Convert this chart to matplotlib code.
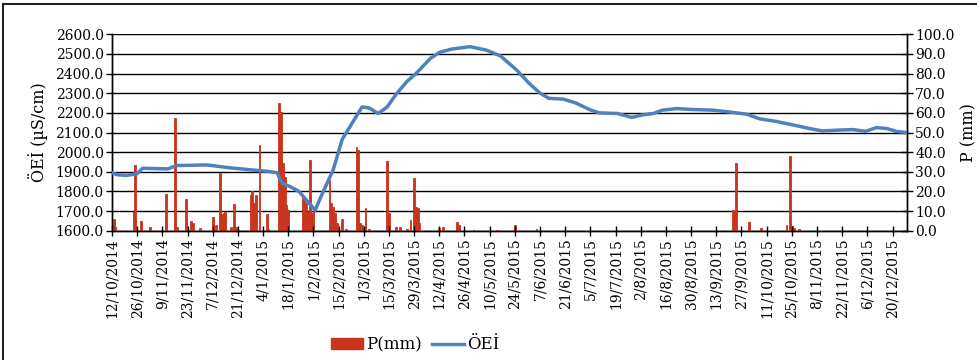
import matplotlib
matplotlib.use("Agg")
import matplotlib.pyplot as plt
from matplotlib.lines import Line2D
from matplotlib.patches import Patch
import datetime as dt

# ---- data ----
start = dt.date(2014, 10, 12)

ec_days = [0, 3, 8, 14, 17, 31, 36, 53, 64, 75, 86, 92, 93, 95, 99, 104, 108, 113, 117,
           123, 128, 132, 139, 143, 148, 153, 158, 164, 169, 177, 182, 189, 199, 208, 216,
           225, 232, 238, 243, 251, 258, 266, 271, 281, 289, 295, 301, 306, 314, 323, 334,
           343, 353, 360, 369, 378, 388, 395, 403, 412, 419, 425, 431, 436, 442]
ec_values = [1895, 1885, 1882, 1890, 1918, 1915, 1932, 1935, 1922, 1912, 1903, 1895, 1870,
             1840, 1825, 1800, 1757, 1705, 1790, 1910, 2065, 2125, 2230, 2225, 2197, 2230,
             2295, 2360, 2400, 2477, 2508, 2525, 2537, 2520, 2490, 2418, 2350, 2300, 2274,
             2270, 2250, 2215, 2200, 2197, 2177, 2190, 2197, 2214, 2222, 2217, 2214, 2205,
             2193, 2170, 2157, 2140, 2120, 2108, 2112, 2115, 2106, 2125, 2120, 2106, 2100]

p_days = [1, 2, 12, 13, 16, 21, 30, 35, 36, 41, 44, 45, 49, 56, 58, 60, 61, 62, 63, 66, 68, 69,
          77, 78, 79, 80, 82, 86, 87, 93, 94, 95, 96, 97, 98, 106, 107, 108, 109, 110, 111, 112,
          121, 122, 123, 124, 125, 128, 130, 136, 137, 138, 139, 141, 143, 153, 154, 158, 160,
          164, 166, 168, 169, 170, 171, 182, 184, 192, 193, 201, 214, 224, 236,
          345, 346, 347, 354, 361, 375, 377, 378, 379, 382]
p_values = [5.8, 2.0, 9.7, 33.4, 5.0, 2.0, 18.7, 57.2, 2.0, 16.0, 5.0, 3.7, 1.5, 7.0, 3.0, 29.5,
            8.5, 9.2, 9.7, 2.0, 13.6, 2.0, 18.0, 20.0, 14.0, 18.0, 43.6, 8.5, 1.0, 65.0, 60.6,
            34.3, 27.5, 13.0, 10.5, 17.0, 17.3, 14.0, 9.7, 36.0, 8.8, 10.5, 26.0, 14.0, 12.0,
            8.8, 3.7, 5.8, 1.0, 42.8, 41.0, 3.7, 2.9, 11.4, 1.0, 35.7, 8.8, 2.0, 2.0, 1.0, 5.4,
            26.7, 12.2, 11.4, 3.7, 1.2, 1.7, 4.6, 2.9, 0.3, 0.3, 2.9, 0.8,
            10.5, 10.5, 34.6, 4.6, 1.5, 2.9, 38.2, 2.4, 1.2, 0.8]

left_ticks = [1600, 1700, 1800, 1900, 2000, 2100, 2200, 2300, 2400, 2500, 2600]
right_ticks = [0, 10, 20, 30, 40, 50, 60, 70, 80, 90, 100]

ec_dates = [start + dt.timedelta(days=d) for d in ec_days]
p_dates = [start + dt.timedelta(days=d) for d in p_days]
tick_dates = [start + dt.timedelta(days=14 * i) for i in range(32)]

# ---- figure ----
plt.rcParams['font.family'] = "DejaVu Serif"
fig = plt.figure(figsize=(9.77, 3.6), dpi=100)
ax = fig.add_axes([0.1146, 0.359, 0.8137, 0.5457])
ax2 = ax.twinx()

red = '#C9341C'
blue = '#4F81BD'

ax2.bar(p_dates, p_values, width=1.0, color=red, edgecolor=red, linewidth=0.6,
        zorder=3, align='center')
ax2.set_ylim(0, 100)
ax2.set_yticks(right_ticks)
ax2.set_yticklabels([f"{v:.1f}" for v in right_ticks], fontsize=10)
ax2.yaxis.grid(True, color='black', linewidth=1.0, zorder=0)
ax2.set_axisbelow(True)
ax2.tick_params(axis='y', direction='inout', length=8, width=1, pad=2)
ax2.set_ylabel("P (mm)", fontsize=11.5, labelpad=4)

ax.plot(ec_dates, ec_values, color=blue, linewidth=2.5, zorder=5, solid_capstyle='round')
ax.set_ylim(1600, 2600)
ax.set_yticks(left_ticks)
ax.set_yticklabels([f"{v:.1f}" for v in left_ticks], fontsize=10)
ax.tick_params(axis='y', direction='out', length=4, width=1, pad=2)
ax.set_ylabel("ÖEİ (µS/cm)", fontsize=11.5, labelpad=5)

ax.set_zorder(ax2.get_zorder() + 1)
ax.patch.set_visible(False)

ax.set_xlim(start, start + dt.timedelta(days=442))
ax.set_xticks(tick_dates)
ax.set_xticklabels([f"{d.day}/{d.month}/{d.year}" for d in tick_dates], rotation=90, fontsize=10)
ax.tick_params(axis='x', direction='inout', length=7, width=1, pad=2)
ax2.tick_params(axis='x', length=0)

for a in (ax, ax2):
    for s in a.spines.values():
        s.set_color('black')
        s.set_linewidth(1.0)
ax.spines['top'].set_visible(False)
ax2.spines['top'].set_visible(False)

handles = [Patch(facecolor=red, edgecolor=red), Line2D([0], [0], color=blue, linewidth=2.5)]
fig.legend(handles, ["P(mm)", "ÖEİ"], loc='center', bbox_to_anchor=(0.425, 0.042), ncol=2,
           frameon=False, fontsize=12, handlelength=1.9, handletextpad=0.2, columnspacing=0.6)

# outer chart border (left and top)
fig.add_artist(Line2D([2.5 / 977, 2.5 / 977], [0, 1 - 4 / 360], transform=fig.transFigure,
                      color='#222222', linewidth=1.5))
fig.add_artist(Line2D([2.5 / 977, 1], [1 - 4 / 360, 1 - 4 / 360], transform=fig.transFigure,
                      color='#222222', linewidth=1.5))

fig.savefig("out.png", dpi=100)
